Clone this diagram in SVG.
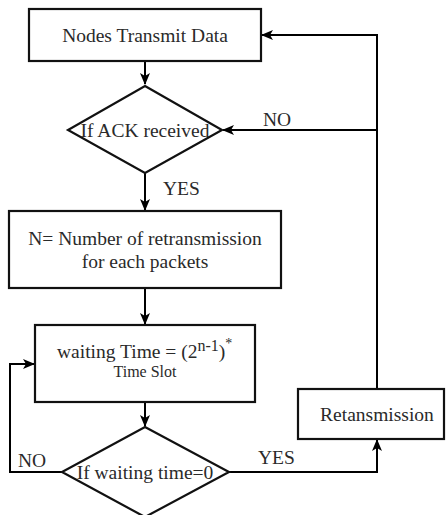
<svg xmlns="http://www.w3.org/2000/svg" width="446" height="515" viewBox="0 0 446 515">
<defs>
<marker id="arr" viewBox="0 0 12 10" refX="11" refY="5" markerWidth="12" markerHeight="10" markerUnits="userSpaceOnUse" orient="auto">
<path d="M0,0 L12,5 L0,10 L3,5 Z" fill="#000"/>
</marker>
</defs>
<style>
.box{fill:#fff;stroke:#111;stroke-width:2.2}
.ln{fill:none;stroke:#000;stroke-width:2}
text{fill:#2a2a2a;font-size:19.5px}
.c{text-anchor:middle}
</style>
<rect width="446" height="515" fill="#fff"/>
<g font-family="'Liberation Serif', 'Times New Roman', serif">
<g id="connectors">
<path class="ln" d="M145,61 V84" marker-end="url(#arr)"/>
<path class="ln" d="M145,173 V210" marker-end="url(#arr)"/>
<path class="ln" d="M145,288 V324" marker-end="url(#arr)"/>
<path class="ln" d="M145,402 V426" marker-end="url(#arr)"/>
<path class="ln" d="M62,472 H10 V364 H34" marker-end="url(#arr)"/>
<path class="ln" d="M229,472 H377 V440" marker-end="url(#arr)"/>
<path class="ln" d="M377,389 V35 H262" marker-end="url(#arr)"/>
<path class="ln" d="M377,130 H223" marker-end="url(#arr)"/>
<text x="263" y="126">NO</text>
<text x="163" y="195">YES</text>
<text x="18" y="467">NO</text>
<text x="258" y="464">YES</text>
</g>
<g id="n1">
<rect class="box" x="29" y="9" width="232" height="52"/>
<text class="c" x="145" y="42">Nodes Transmit Data</text>
</g>
<g id="d1">
<polygon class="box" points="145,86 222,130 145,173 68,130"/>
<text class="c" x="145" y="137">If ACK received</text>
</g>
<g id="n2">
<rect class="box" x="9" y="211" width="272" height="77"/>
<text class="c" x="145" y="245">N= Number of retransmission</text>
<text class="c" x="145" y="268">for each packets</text>
</g>
<g id="n3">
<rect class="box" x="35" y="325" width="220" height="77"/>
<text x="57" y="358">waiting Time = (2<tspan style="font-size:16px" dy="-7">n-1</tspan><tspan dy="7">)</tspan><tspan style="font-size:14px" dy="-10">*</tspan></text>
<text class="c" x="145" y="377" style="font-size:16px">Time Slot</text>
</g>
<g id="d2">
<polygon class="box" points="145,427 229,472 145,517 62,472"/>
<text class="c" x="145" y="479">If waiting time=0</text>
</g>
<g id="n4">
<rect class="box" x="298" y="389" width="146" height="50"/>
<text class="c" x="377" y="421">Retansmission</text>
</g>
</g>
</svg>
